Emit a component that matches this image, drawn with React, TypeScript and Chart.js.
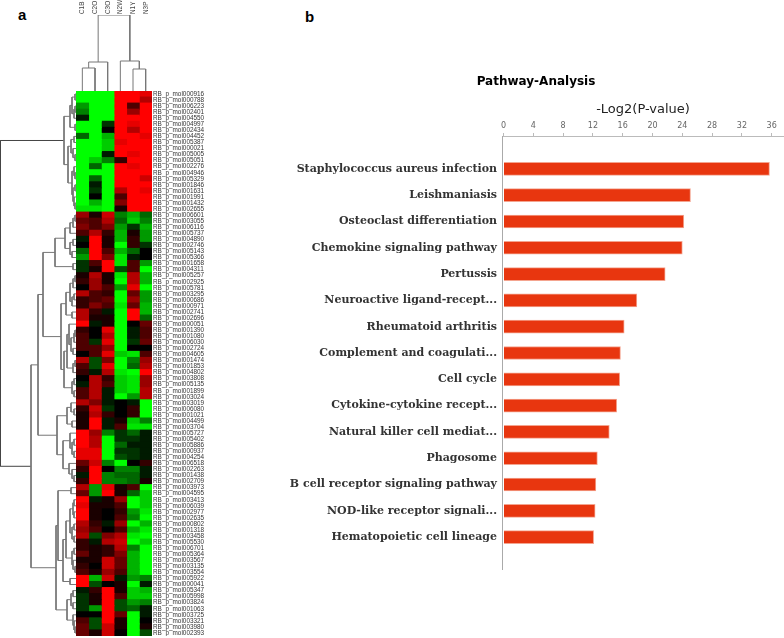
import React, { useEffect, useRef } from "react";
import { Chart, registerables } from "chart.js";

Chart.register(...registerables);

const sampleNames = ["C1B", "C2O", "C3O", "N2W", "N1Y", "N3P"];

const moleculeIds = [
  "000916","000788","006223","002401","004550","004997","002434","004452","005387","000021",
  "005005","005051","002276","004946","005329","001846","001631","001991","001432","002655",
  "006601","003055","006116","005737","004890","002746","005143","005366","001658","004311",
  "005257","002925","005781","003295","000686","000971","002741","002696","000051","001390",
  "001080","006030","002724","004605","001474","001853","004802","003808","005135","001899",
  "003024","003019","006080","001021","004499","003704","005727","005402","005886","000937",
  "004254","006518","002263","001438","002709","003973","004595","003413","006039","002977",
  "002635","000802","001318","003458","005530","006701","005364","003567","003135","003554",
  "005922","000041","005347","005998","003824","001063","003725","003321","003980","002393",
];

// one row per molecule, columns in sampleNames order: -10 = green, 0 = black, 10 = red
const heatRows = [
  [-10,-10,-10,10,10,9],[-10,-10,-10,10,10,7],[-6,-10,-10,10,3,10],[-5,-10,-10,10,6,10],[-1,-10,-10,10,10,10],
  [-10,-10,-2,10,9,10],[-10,-10,0,10,7,10],[-4,-10,-7,10,10,9],[-10,-10,-8,9,10,10],[-10,-10,-8,10,10,10],
  [-10,-10,-1,10,9,10],[-10,-8,-5,2,10,10],[-10,-4,-10,10,9,10],[-10,-10,-10,10,10,10],[-10,-4,-10,10,10,8],
  [-10,-1,-10,10,10,10],[-10,-2,-10,7,10,9],[-10,0,-10,3,10,10],[-10,-7,-10,5,10,10],[-9,-9,-10,1,10,10],
  [6,1,8,-5,-7,-4],[4,3,7,-4,-8,-5],[5,3,5,-6,-2,-7],[3,7,2,-7,1,-6],[-1,10,1,-7,2,-6],
  [0,10,1,-10,2,-2],[-4,10,3,-7,-4,0],[-6,10,5,-9,-1,0],[-2,3,10,-9,3,-6],[-2,1,10,-3,3,-10],
  [1,7,1,-9,7,-7],[2,6,1,-10,7,-7],[0,6,3,-6,9,-10],[7,3,2,-10,4,-6],[2,3,4,-10,6,-6],
  [2,5,3,-9,4,-7],[7,2,-1,-10,10,-7],[7,1,1,-10,10,-4],[10,-1,1,-10,0,4],[2,0,9,-10,-1,3],
  [3,0,7,-10,-1,3],[3,-2,9,-10,-2,4],[3,3,6,-10,0,0],[0,3,9,-8,-9,3],[7,-3,5,-10,-5,6],
  [3,-3,9,-10,-4,7],[2,-1,7,-9,-10,10],[0,7,2,-8,-9,6],[-1,7,3,-8,-9,6],[3,7,-1,-8,-9,7],
  [3,7,-1,-10,-6,7],[7,5,-1,0,-1,-10],[2,8,-2,0,2,-10],[1,7,2,0,2,-10],[1,10,-1,1,-8,-5],
  [1,10,-1,3,-9,-9],[10,6,-5,-2,-4,-1],[10,7,-10,-2,-2,-1],[10,7,-10,-4,-1,-1],[9,9,-10,-2,-2,-1],
  [9,9,-10,-3,-2,-1],[4,8,-5,-10,0,2],[2,10,0,-5,-5,-1],[-1,10,-5,-4,-4,-1],[2,10,-5,-5,-4,1],
  [7,-6,9,1,3,-10],[4,-6,10,1,-4,-8],[10,-1,1,6,-10,-8],[9,1,1,3,-10,-8],[10,1,0,2,-6,-9],
  [10,1,0,3,-5,-10],[7,2,-1,6,-10,-7],[6,3,0,3,-7,-9],[7,-3,5,7,-9,-10],[2,-1,7,8,-10,-8],
  [2,1,2,7,-5,-10],[4,1,2,5,-7,-10],[1,1,8,4,-7,-10],[2,0,8,4,-7,-10],[3,1,6,3,-7,-10],
  [10,-7,8,-1,-6,-5],[10,-3,0,1,-10,-1],[-1,2,10,1,-8,-7],[-2,1,10,3,-8,-8],[-2,1,10,-3,-6,-5],
  [-2,-6,10,-3,-4,-1],[0,0,10,4,-10,-1],[3,-3,10,1,-10,0],[4,-3,8,1,-10,1],[4,1,8,0,-10,-3],
];

// Dendrograms: [merge height, left child, right child]; L is a leaf
type Tree = 0 | [number, Tree, Tree];
const L: Tree = 0;

const columnTree: Tree = [76, [29, [23, L, L], L], [30, L, [22, L, L]]];

const rowsGreenA: Tree = [6, [4, [1, L, L], [2, [1, L, L], L]], [1, L, L]];
const rowsGreenB: Tree = [5, [2, L, L], [3, L, [1, L, L]]];
const rowsGreenC: Tree = [4, [2, L, [1, L, L]], [3, [1, L, L], [2, L, [1, L, L]]]];
const rowsGreen: Tree = [12, rowsGreenA, [8, rowsGreenB, rowsGreenC]];

const rows21: Tree = [21, [11, [6, [3, [1, L, L], L], L], [6, [3, L, L], [4, L, L]]], [3, L, L]];
const rows31: Tree = [10, [6, [3, [1, L, L], L], [4, [2, L, L], L]], [4, L, L]];
const rows39: Tree = [12, [9, [7, L, [5, [2, [1, L, L], L], [3, L, L]]], [3, [1, L, L], L]], [4, [2, L, L], [2, L, L]]];
const rows52: Tree = [9, [5, L, [2, L, L]], [4, L, L]];
const rows57: Tree = [6, L, [4, [2, L, L], [2, L, L]]];
const rows62: Tree = [7, L, [4, L, [2, L, L]]];
const rows68: Tree = [10, [6, [3, [2, L, L], [2, L, L]], [4, [2, L, L], [2, L, L]]], [4, [2, L, L], [3, L, [1, L, L]]]];
const rows83: Tree = [9, [5, [3, L, L], [3, L, L]], [3, L, [2, L, [1, L, L]]]];

const rowsUpper: Tree = [38, [33, rows21, [15, rows31, rows39]], [19, rows52, [13, rows57, rows62]]];
const rowsLower: Tree = [20, [18, [5, L, L], [13, rows68, [6, L, L]]], rows83];
const rowTree: Tree = [75.5, rowsGreen, [45, rowsUpper, rowsLower]];

const pathways = [
  "Staphylococcus aureus infection","Leishmaniasis","Osteoclast differentiation","Chemokine signaling pathway",
  "Pertussis","Neuroactive ligand-recept...","Rheumatoid arthritis","Complement and coagulati...","Cell cycle",
  "Cytokine-cytokine recept...","Natural killer cell mediat...","Phagosome","B cell receptor signaling pathway",
  "NOD-like receptor signali...","Hematopoietic cell lineage",
];
const logP = [35.7, 25.1, 24.2, 24.0, 21.7, 17.9, 16.2, 15.7, 15.6, 15.2, 14.2, 12.6, 12.4, 12.3, 12.1];
const logPTicks = [0, 4, 8, 12, 16, 20, 24, 28, 32, 36];

const heatColor = (v: number) =>
  v >= 0 ? `rgb(${Math.round(v * 25.5)},0,0)` : `rgb(0,${Math.round(-v * 25.5)},0)`;

function treeSegments(tree: Tree) {
  const out: [number, number][][] = [];
  let leaf = 0;
  const walk = (n: Tree): { pos: number; h: number } => {
    if (n === 0) return { pos: leaf++ + 0.5, h: 0 };
    const l = walk(n[1]);
    const r = walk(n[2]);
    out.push([[l.h, l.pos], [n[0], l.pos], [n[0], r.pos], [r.h, r.pos]]);
    return { pos: (l.pos + r.pos) / 2, h: n[0] };
  };
  walk(tree);
  return out;
}

const box = (left: number, top: number, width: number, height: number): React.CSSProperties => ({
  position: "absolute", left, top, width, height,
});

const zeroPadding = (s: any) => {
  s.paddingTop = 0; s.paddingBottom = 0; s.paddingLeft = 0; s.paddingRight = 0;
};

export default function App() {
  const heatRef = useRef<HTMLCanvasElement>(null);
  const rowRef = useRef<HTMLCanvasElement>(null);
  const colRef = useRef<HTMLCanvasElement>(null);
  const barRef = useRef<HTMLCanvasElement>(null);

  useEffect(() => {
    const common = { animation: false as const, responsive: false, devicePixelRatio: 1 };
    const noLegend = { legend: { display: false }, tooltip: { enabled: false } };

    const heat = new Chart(heatRef.current!, {
      type: "bar",
      data: {
        labels: moleculeIds.map((m) => "RB_p_mol" + m),
        datasets: sampleNames.map((s, c) => ({
          label: s,
          data: heatRows.map(() => 1),
          backgroundColor: heatRows.map((r) => heatColor(r[c])),
          barPercentage: 1,
          categoryPercentage: 1.04,
          borderWidth: 0,
          inflateAmount: 0.4,
        })),
      },
      options: {
        ...common,
        indexAxis: "y",
        layout: { padding: 0 },
        plugins: noLegend,
        scales: {
          x: { stacked: true, min: 0, max: 6, display: false, afterFit: zeroPadding },
          y: {
            stacked: true,
            position: "right",
            afterFit: (s: any) => { s.width = 78; zeroPadding(s); },
            grid: { display: false, drawTicks: false },
            border: { display: false },
            ticks: {
              autoSkip: false, padding: 1, color: "#333",
              font: { family: "Liberation Sans", size: 6.4 },
            },
          },
        },
      },
    } as any);

    const dendroDatasets = (segs: [number, number][][], swap: boolean, rootColor: string) =>
      segs.map((pts, i) => ({
        data: pts.map(([h, p]) => (swap ? { x: p, y: h } : { x: h, y: p })),
        showLine: true,
        pointRadius: 0,
        borderWidth: 1,
        borderColor: i === segs.length - 1 ? rootColor : "#777777",
      }));

    const rowChart = new Chart(rowRef.current!, {
      type: "scatter",
      data: { datasets: dendroDatasets(treeSegments(rowTree), false, "#444444") },
      options: {
        ...common,
        plugins: noLegend,
        layout: { padding: 0 },
        scales: {
          x: { display: false, min: 0, max: 76, reverse: true, afterFit: zeroPadding },
          y: { display: false, min: 0, max: moleculeIds.length, reverse: true, afterFit: zeroPadding },
        },
      },
    } as any);

    const colChart = new Chart(colRef.current!, {
      type: "scatter",
      data: { datasets: dendroDatasets(treeSegments(columnTree), true, "#777777") },
      options: {
        ...common,
        plugins: noLegend,
        layout: { padding: 0 },
        scales: {
          x: {
            type: "linear", min: 0, max: 6, position: "top",
            afterBuildTicks: (s: any) => { s.ticks = sampleNames.map((_, i) => ({ value: i + 0.5 })); },
            afterFit: (s: any) => { s.height = 25; zeroPadding(s); },
            grid: { display: false, drawTicks: false },
            border: { display: false },
            ticks: {
              autoSkip: false, maxRotation: 90, minRotation: 90, padding: 1, color: "#444", labelOffset: 8,
              font: { family: "Liberation Sans", size: 6.4 },
              callback: (v: number) => sampleNames[Math.floor(v)],
            },
          },
          y: { display: false, min: 0, max: 76, afterFit: zeroPadding },
        },
      },
    } as any);

    const bars = new Chart(barRef.current!, {
      type: "bar",
      data: {
        datasets: [{
          data: logP.map((v, i) => ({ x: v, y: i })),
          backgroundColor: "#E8360F",
          borderColor: "#F4A48F",
          borderWidth: 1,
          barThickness: 13,
        }],
      },
      options: {
        ...common,
        indexAxis: "y",
        layout: { padding: 0 },
        plugins: {
          ...noLegend,
          title: {
            display: true, text: "Pathway-Analysis", color: "#000",
            font: { family: "DejaVu Sans", size: 12, weight: "bold" },
            padding: { top: 4, bottom: 12.6 },
          },
        },
        scales: {
          x: {
            type: "linear", position: "top", min: -0.2, max: 37.65,
            afterBuildTicks: (s: any) => { s.ticks = logPTicks.map((value) => ({ value })); },
            afterFit: (s: any) => { s.height = 34; zeroPadding(s); },
            title: {
              display: true, text: "-Log2(P-value)", color: "#222",
              font: { family: "DejaVu Sans", size: 13, weight: "normal" },
              padding: { top: 0, bottom: 2 },
            },
            grid: { drawOnChartArea: false, tickLength: 3, color: "#bbbbbb" },
            border: { color: "#bbbbbb", width: 1 },
            ticks: {
              color: "#666", padding: 2, autoSkip: false, maxRotation: 0,
              font: { family: "DejaVu Sans", size: 8 },
            },
          },
          y: {
            type: "linear", reverse: true, min: -1.25, max: 15.25, offset: false,
            afterBuildTicks: (s: any) => { s.ticks = pathways.map((_, i) => ({ value: i })); },
            afterFit: (s: any) => { s.width = 214; zeroPadding(s); },
            grid: { display: false, drawTicks: false, offset: false },
            border: { color: "#aaaaaa", width: 1 },
            ticks: {
              color: "#333", padding: 5, autoSkip: false,
              font: { family: "DejaVu Serif", size: 11, weight: "bold" },
              callback: (v: number) => pathways[v],
            },
          },
        },
      },
    } as any);

    return () => { heat.destroy(); rowChart.destroy(); colChart.destroy(); bars.destroy(); };
  }, []);

  return (
    <div style={{ position: "fixed", left: 0, top: 0, width: 784, height: 638, background: "#fff", overflow: "hidden" }}>
      <div style={{ ...box(18, 6, 20, 22), font: "bold 15px 'Liberation Sans'", color: "#000" }}>a</div>
      <div style={{ ...box(305, 8, 20, 22), font: "bold 15px 'Liberation Sans'", color: "#000" }}>b</div>
      <canvas ref={colRef} width={76} height={101} style={box(76, -10, 76, 101)} />
      <canvas ref={rowRef} width={76} height={545} style={box(0, 91, 76, 545)} />
      <canvas ref={heatRef} width={154} height={545} style={box(76, 91, 154, 545)} />
      <canvas ref={barRef} width={496} height={499} style={box(288, 71, 496, 499)} />
    </div>
  );
}
